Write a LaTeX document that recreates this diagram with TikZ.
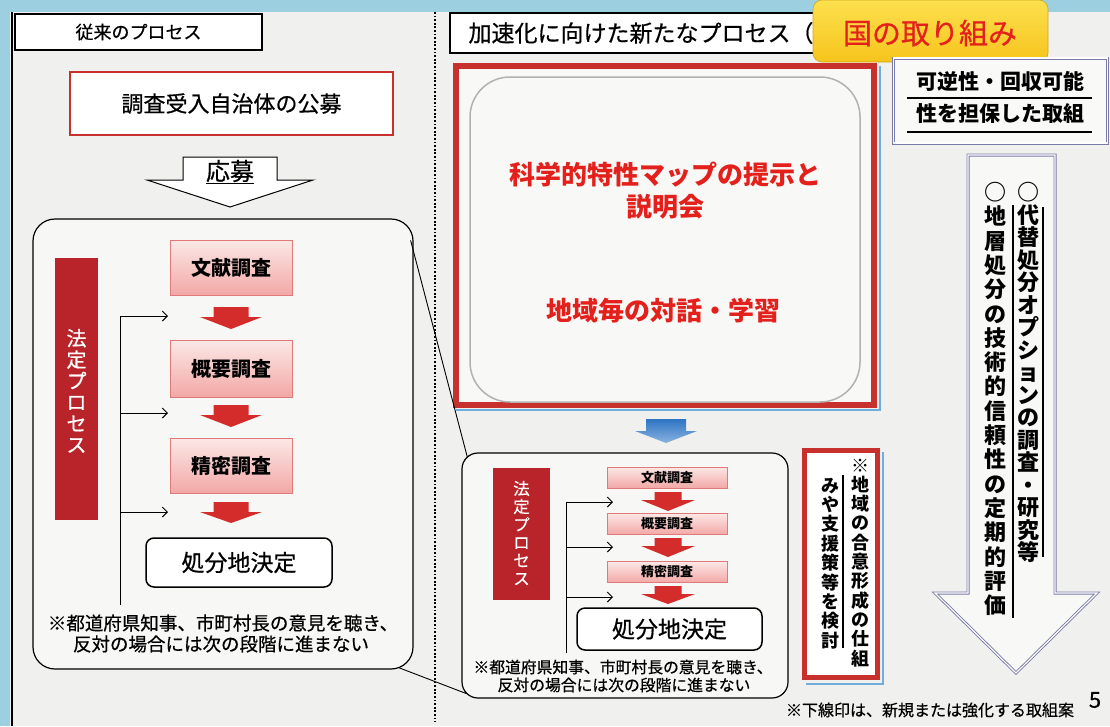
\documentclass[tikz,border=0pt]{standalone}
\usepackage{fontspec}
\setmainfont{Noto Sans CJK JP}
\newfontfamily\medfont{Noto Sans CJK JP}[FakeBold=0.6]
\usetikzlibrary{calc,arrows.meta}
\definecolor{pagebg}{HTML}{F0F1EE}
\definecolor{blueedge}{HTML}{9CCFE0}
\definecolor{darkred}{HTML}{B8242A}
\definecolor{boxred}{HTML}{C8302E}
\definecolor{pinktop}{HTML}{FBE8E6}
\definecolor{pinkbot}{HTML}{F2A8A6}
\definecolor{pinkedge}{HTML}{E07A78}
\definecolor{arrred}{HTML}{D42C2A}
\definecolor{txtred}{HTML}{E4201C}
\definecolor{ylwtop}{HTML}{FCE04E}
\definecolor{ylwbot}{HTML}{F6C41C}
\definecolor{slate}{HTML}{7A7AA8}
\definecolor{bluearr}{HTML}{2C74C4}
\definecolor{shadowblue}{HTML}{6FAEDC}
\newcommand\fsz[1]{\fontsize{#1}{#1}\selectfont}
\makeatletter
\newcommand\vcol[2]{\vbox{\offinterlineskip\@tfor\vc@c:=#2\do{\hbox to 1em{\hss\vrule height .88em depth .12em width 0pt\relax\vc@c\hss}\vskip#1\relax}}}
\makeatother
\newcommand\blkarrow[7]{\path[#7] (#1-#5,#2) -- (#1+#5,#2) -- (#1+#5,#3) -- (#1+#6,#3) -- (#1,#4) -- (#1-#6,#3) -- (#1-#5,#3) -- cycle;}
\tikzset{
  hdrbox/.style={draw=black, line width=1.3pt, fill=white, inner sep=0pt},
  pinkbox/.style={draw=pinkedge, line width=0.9pt, top color=pinktop, bottom color=pinkbot, minimum width=122pt, inner sep=0pt, font=\bfseries\fsz{20}},
  pinkboxs/.style={draw=pinkedge, line width=0.8pt, top color=pinktop, bottom color=pinkbot, minimum width=120pt, minimum height=21pt, inner sep=0pt, font=\bfseries\fsz{13}},
  redbar/.style={fill=darkred, inner sep=0pt},
  roundframe/.style={draw=black, line width=1.2pt, fill=white!45!pagebg, inner sep=0pt},
  decisionbox/.style={draw=black, line width=1.5pt, fill=white, rounded corners=8pt, inner sep=0pt},
  vtext/.style={inner sep=0pt, anchor=north},
  plaintext/.style={inner sep=0pt},
  redarrow/.style={fill=arrred},
  bracketline/.style={line width=1pt},
  bracketarrow/.style={line width=1pt, -{Straight Barb[length=5pt,width=10pt]}},
  zoomline/.style={line width=0.9pt},
  dotline/.style={line width=1.6pt, dash pattern=on 1.8pt off 1.8pt},
  slatebox/.style={draw=slate, line width=0.9pt, double=white, double distance=1.2pt},
}
\begin{document}
\begin{tikzpicture}[x=1pt,y=-1pt]
\useasboundingbox (0,0) rectangle (1110,726);
\fill[blueedge] (0,0) rectangle (1110,726);
\fill[pagebg] (10,12) rectangle (1110,726);
\draw[line width=1.2pt] (12,12) -- (12,726);
\draw[dotline] (435,12) -- (435,722);

% ---------------- left: conventional process ----------------
\node[hdrbox, minimum width=247pt, minimum height=36pt, font=\medfont\fsz{18}] (hdrL) at (138.5,32) {従来のプロセス};
\node[draw=boxred, line width=1.2pt, fill=white, minimum width=323pt, minimum height=63pt, inner sep=0pt, font=\medfont\fsz{22}] (koubo) at (231.5,103.5) {調査受入自治体の公募};
\path[draw=black, line width=1pt, fill=white] (183,157) -- (277,157) -- (277,180) -- (313,180) -- (230,207) -- (147,180) -- (183,180) -- cycle;
\node[plaintext, font=\medfont\fsz{24}] (oubo) at (230,172) {\underline{応募}};

\node[roundframe, rounded corners=22pt, minimum width=380pt, minimum height=450pt] (L) at (223,444) {};
\node[redbar, minimum width=43pt, minimum height=262pt] (barL) at (76.5,389) {};
\node[vtext, text=white, font=\medfont\fsz{20}] (barLt) at (76.5,328) {\vcol{1.3pt}{法定プロセス}};

\node[pinkbox, minimum height=55pt] (b1) at (231,267.5) {文献調査};
\node[pinkbox, minimum height=57pt] (b2) at (231,368.5) {概要調査};
\node[pinkbox, minimum height=55pt] (b3) at (231,465.5) {精密調査};
\blkarrow{231}{307}{317}{329}{17.5}{31}{redarrow}
\blkarrow{231}{405}{415}{427}{17.5}{31}{redarrow}
\blkarrow{231}{502}{512}{523}{17.5}{31}{redarrow}
\node[decisionbox, minimum width=186pt, minimum height=49pt, font=\medfont\fsz{23}] (k1) at (239,562.5) {処分地決定};

\coordinate (brL0) at (120,316);
\coordinate (brL1) at (120,413);
\coordinate (brL2) at (120,512);
\coordinate (brLb) at (120,605);
\draw[bracketline] (brLb) -- (brL0);
\draw[bracketarrow] (brL0) -- (168,316);
\draw[bracketarrow] (brL1) -- (168,413);
\draw[bracketarrow] (brL2) -- (168,512);
\node[plaintext, font=\medfont\fsz{18.5}] (noteL1) at (223,623) {※都道府県知事、市町村長の意見を聴き、};
\node[plaintext, font=\medfont\fsz{18.5}] (noteL2) at (221,644) {反対の場合には次の段階に進まない};

% ---------------- right: new process ----------------
\node[hdrbox, minimum width=385pt, minimum height=40pt] (hdrR) at (642.5,33) {};
\node[plaintext, anchor=west, font=\medfont\fsz{23}] (hdrRt) at ($(hdrR.west)+(19,0)$) {加速化に向けた新たなプロセス（};

\draw[shadowblue, line width=1.5pt] (456,410) -- (880,410) -- (880,66);
\node[draw=boxred, line width=6pt, fill=white!50!pagebg, minimum width=418pt, minimum height=339pt, inner sep=0pt] (map) at (665,235.5) {};
\node[draw=black!30, line width=1.5pt, rounded corners=40pt, minimum width=390pt, minimum height=325pt, inner sep=0pt] (mapin) at (665,239.5) {};
\node[plaintext, text=txtred, font=\bfseries\fsz{26}] (mt1) at (665,175) {科学的特性マップの提示と};
\node[plaintext, text=txtred, font=\bfseries\fsz{26}] (mt2) at (665,207) {説明会};
\node[plaintext, text=txtred, font=\bfseries\fsz{26}] (mt3) at (663,311) {地域毎の対話・学習};

\blkarrow{666}{419}{431}{443}{20}{31}{top color=bluearr, bottom color=bluearr!55!white}

\node[roundframe, rounded corners=16pt, minimum width=326pt, minimum height=245pt] (R) at (625,575.5) {};
\node[redbar, minimum width=57pt, minimum height=132pt] (barR) at (521.5,534) {};
\node[vtext, text=white, font=\medfont\fsz{16.5}] (barRt) at (521.5,480) {\vcol{1.5pt}{法定プロセス}};
\node[pinkboxs] (s1) at (667,477.5) {文献調査};
\node[pinkboxs] (s2) at (667,524) {概要調査};
\node[pinkboxs] (s3) at (667,572) {精密調査};
\blkarrow{668}{492}{500}{511}{13.5}{27}{redarrow}
\blkarrow{668}{538}{546}{557}{13.5}{27}{redarrow}
\blkarrow{668}{586}{594}{604}{13.5}{27}{redarrow}
\node[decisionbox, minimum width=185pt, minimum height=42pt, font=\medfont\fsz{23}] (k2) at (669.5,629) {処分地決定};

\coordinate (brR0) at (566,502);
\coordinate (brR1) at (566,547);
\coordinate (brR2) at (566,597);
\coordinate (brRb) at (566,653);
\draw[bracketline] (brRb) -- (brR0);
\draw[bracketarrow] (brR0) -- (613,502);
\draw[bracketarrow] (brR1) -- (613,547);
\draw[bracketarrow] (brR2) -- (613,597);
\node[plaintext, font=\medfont\fsz{15.8}] (noteR1) at (623,667) {※都道府県知事、市町村長の意見を聴き、};
\node[plaintext, font=\medfont\fsz{15.8}] (noteR2) at (624,685) {反対の場合には次の段階に進まない};

% zoom lines from left frame to right frame
\coordinate (zl1) at ($(L.north east)+(-3,22)$);
\coordinate (zr1) at ($(R.north west)+(6,5)$);
\coordinate (zl2) at ($(L.south east)+(-15,-2)$);
\coordinate (zr2) at ($(R.south west)+(5,-5)$);
\draw[zoomline] (zl1) -- (zr1);
\draw[zoomline] (zl2) -- (zr2);

% consensus box
\draw[shadowblue, line width=1.5pt] (806,684) -- (883,684) -- (883,452);
\node[draw=boxred, line width=5pt, fill=white, minimum width=73pt, minimum height=227pt, inner sep=0pt] (cons) at (841,564) {};
\node[vtext, font=\bfseries\fsz{18}] (cons1) at (860,456) {\vcol{1.3pt}{※地域の合意形成の仕組}};
\node[vtext, font=\bfseries\fsz{18}] (cons2) at (830,476) {\vcol{1.4pt}{みや支援策等を検討}};
\draw[line width=1.2pt] (843,475) -- (843,648);

% yellow label
\node[draw=ylwbot!85!black, line width=0.6pt, top color=ylwtop, bottom color=ylwbot, rounded corners=9pt, minimum width=235pt, minimum height=62pt, inner sep=0pt] (kuni) at (930.5,31) {};
\node[plaintext, text=txtred, font=\medfont\fsz{29}] (kunit) at (930,33) {国の取り組み};

% reversibility box
\node[slatebox, fill=white!60!pagebg, minimum width=214pt, minimum height=85pt, inner sep=0pt] (rev) at (1000.5,100.5) {};
\node[plaintext, font=\bfseries\fsz{21}] (rev1) at (1000,81) {可逆性・回収可能};
\node[plaintext, font=\bfseries\fsz{21}] (rev2) at (1000,114) {性を担保した取組};
\draw[line width=1.5pt] (907,98) -- (1092,98);
\draw[line width=1.5pt] (907,132) -- (1092,132);

% big hollow arrow
\path[slatebox, fill=white!50!pagebg] (968,155) -- (1055,155) -- (1055,593) -- (1097,593) -- (1016,673) -- (935,593) -- (968,593) -- cycle;
\node[vtext, font=\bfseries\fsz{22}] (av1) at (1028,181) {\vcol{0.5pt}{○代替処分オプションの調査・研究等}};
\node[vtext, font=\bfseries\fsz{22}] (av2) at (995,181) {\vcol{2.3pt}{○地層処分の技術的信頼性の定期的評価}};
\draw[line width=1.2pt] (1043,207) -- (1043,557);
\draw[line width=1.2pt] (1013,205) -- (1013,618);

% footer
\node[plaintext, font=\medfont\fsz{16}] (foot) at (930,710) {※下線印は、新規または強化する取組案};
\node[plaintext, font=\medfont\fsz{22}] (pagenum) at (1095,700) {5};
\end{tikzpicture}
\end{document}
